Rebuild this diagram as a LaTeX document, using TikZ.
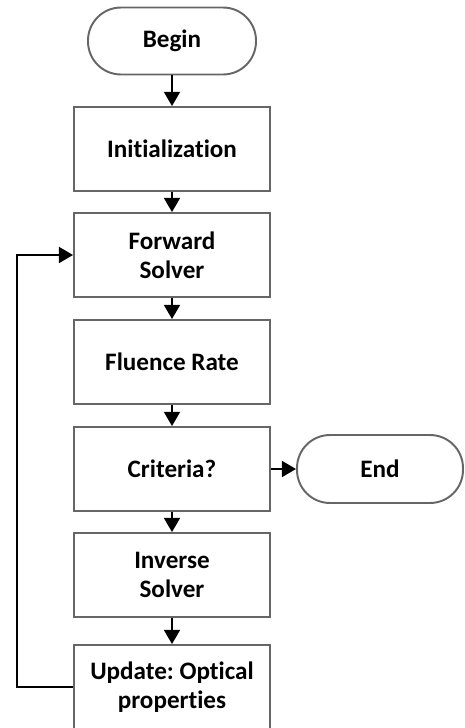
\documentclass[tikz,border=0pt]{standalone}
\usepackage{fontspec}
\setmainfont[Ligatures=NoCommon]{Carlito}
\usetikzlibrary{arrows.meta}
\frenchspacing

\begin{document}
\begin{tikzpicture}[x=0.02cm,y=-0.02cm,
	box/.style={draw=black!60,line width=1.1pt,minimum width=3.92cm,minimum height=1.68cm,align=center,font=\fontsize{14.3}{16.5}\selectfont\bfseries},
	term/.style={box,minimum width=3.36cm,minimum height=1.34cm,rounded corners=0.66cm},
	flow/.style={line width=1.2pt,-{Triangle[length=8pt,width=9pt]}}]

			\useasboundingbox (0,0) rectangle (464,728);

			\node[term] (begin) at (172, 41) {Begin};
			\node[box] (init) at (172, 149) {Initialization};
			\node[box] (fwd) at (172, 255) {Forward\\Solver};
			\node[box] (flu) at (172, 362) {Fluence Rate};
			\node[box] (crit) at (172, 469) {Criteria?};
			\node[term,minimum width=3.32cm,minimum height=1.36cm] (endn) at (380, 469) {End};
			\node[box] (inv) at (172, 575) {Inverse\\Solver};
			\node[box] (upd) at (172, 687) {Update: Optical\\properties};
			\coordinate (lp) at (17, 687);

			\draw[flow] (begin) -- (init);
			\draw[flow] (init) -- (fwd);
			\draw[flow] (fwd) -- (flu);
			\draw[flow] (flu) -- (crit);
			\draw[flow] (crit) -- (endn);
			\draw[flow] (crit) -- (inv);
			\draw[flow] (inv) -- (upd);
			% back to the forward solver
			\draw[flow] (upd.west) -- (lp) |- (fwd.west);

		\end{tikzpicture}
\end{document}
